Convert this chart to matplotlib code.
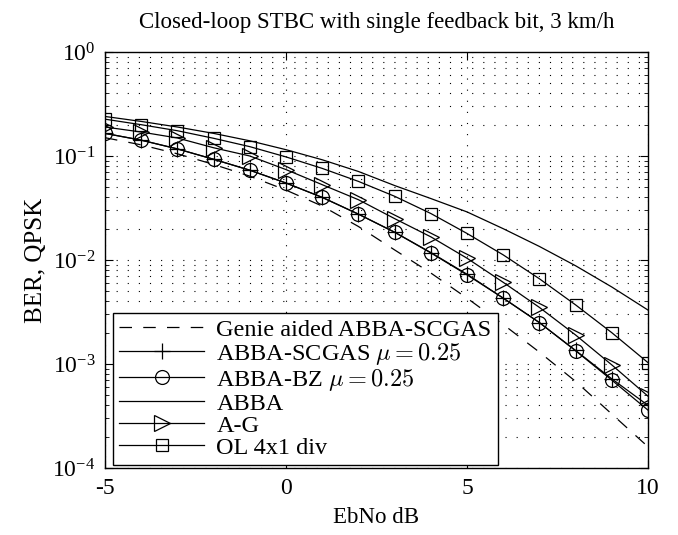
from matplotlib import pyplot as plt
from matplotlib.ticker import LogLocator, NullFormatter
import numpy as np

plt.rcParams['font.family'] = ['Liberation Serif', 'DejaVu Serif']
plt.rcParams['mathtext.fontset'] = 'cm'

EBNO = [-5, -4, -3, -2, -1, 0, 1, 2, 3, 4, 5, 6, 7, 8, 9, 10]

GENIE = [0.150, 0.128, 0.105, 0.083, 0.064, 0.047, 0.033, 0.021, 0.0125,
         0.0075, 0.0043, 0.0024, 0.0013, 0.00068, 0.00033, 0.00016]
SCGAS = [0.165, 0.142, 0.117, 0.093, 0.073, 0.055, 0.040, 0.0276, 0.0185,
         0.0118, 0.0073, 0.0043, 0.0025, 0.00135, 0.00072, 0.00040]
BZ = [0.165, 0.142, 0.117, 0.093, 0.073, 0.055, 0.040, 0.0276, 0.0185,
      0.0117, 0.0072, 0.0043, 0.0025, 0.00134, 0.00070, 0.00036]
ABBA = [0.240, 0.215, 0.190, 0.165, 0.140, 0.115, 0.092, 0.071, 0.052,
        0.039, 0.029, 0.020, 0.0135, 0.0088, 0.0055, 0.0033]
AG = [0.190, 0.170, 0.149, 0.120, 0.100, 0.074, 0.053, 0.038, 0.025,
      0.0167, 0.0104, 0.0061, 0.0035, 0.0019, 0.00098, 0.00049]
OL = [0.226, 0.200, 0.175, 0.148, 0.123, 0.098, 0.076, 0.057, 0.041,
      0.028, 0.018, 0.0112, 0.0066, 0.0037, 0.0020, 0.00103]

LABELS = ['Genie aided ABBA-SCGAS', r'ABBA-SCGAS $\mu=0.25$',
          r'ABBA-BZ $\mu=0.25$', 'ABBA', 'A-G', 'OL 4x1 div']

fig = plt.figure(figsize=(6.78, 5.35), dpi=100)
ax = fig.add_axes([0.1549, 0.1252, 0.8009, 0.7776])

lw = 0.9
ax.semilogy(EBNO, GENIE, 'k--', lw=lw, dashes=(10, 9), label=LABELS[0])
ax.semilogy(EBNO, SCGAS, 'k-', lw=lw, marker='+', ms=11, mew=0.9, label=LABELS[1])
ax.semilogy(EBNO, BZ, 'k-', lw=lw, marker='o', ms=10, mfc='none', mew=0.9, label=LABELS[2])
ax.semilogy(EBNO, ABBA, 'k-', lw=lw, label=LABELS[3])
ax.semilogy(EBNO, AG, 'k-', lw=lw, marker='>', ms=11, mfc='none', mew=0.9, label=LABELS[4])
ax.semilogy(EBNO, OL, 'k-', lw=lw, marker='s', ms=8, mfc='none', mew=0.9, label=LABELS[5])

ax.set_xlim(-5, 10)
ax.set_ylim(1e-4, 1)
ax.set_xticks([-5, 0, 5, 10])
ax.set_xticklabels(['-5', '0', '5', '10'])
ax.yaxis.set_major_locator(LogLocator(base=10, numticks=10))
ax.yaxis.set_minor_locator(LogLocator(base=10, subs=np.arange(2, 10), numticks=20))
ax.yaxis.set_minor_formatter(NullFormatter())

dots = (0, (1, 9))
ax.grid(True, which='major', axis='both', color='k', linestyle=dots, lw=0.8)
ax.grid(True, which='minor', axis='y', color='k', linestyle=dots, lw=0.8)

ax.tick_params(which='both', direction='in', top=True, right=True, labelsize=17, pad=7)
ax.tick_params(which='major', length=6, width=0.8)
ax.tick_params(which='minor', length=3, width=0.6)
for s in ax.spines.values():
    s.set_linewidth(1.0)

ax.set_title('Closed-loop STBC with single feedback bit, 3 km/h', fontsize=16.5, pad=17)
ax.set_xlabel('EbNo dB', fontsize=16.5, labelpad=6)
ax.set_ylabel('BER, QPSK', fontsize=18, labelpad=4)

leg = ax.legend(loc='lower left', bbox_to_anchor=(0.0147, 0.0072), borderaxespad=0,
                fontsize=17.5, numpoints=1, handlelength=3.5, labelspacing=0.0,
                handletextpad=0.5, borderpad=0.25, fancybox=False, framealpha=1,
                edgecolor='k')
leg.get_frame().set_linewidth(1.0)

plt.savefig('out.png', dpi=100)
